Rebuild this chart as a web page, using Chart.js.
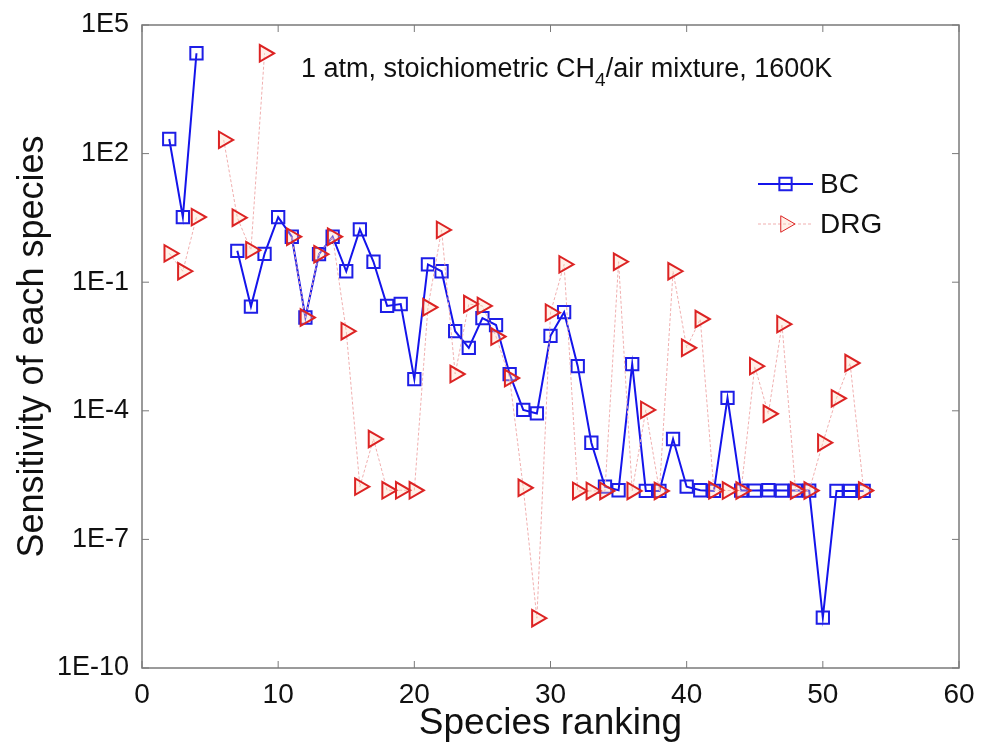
<!DOCTYPE html>
<html>
<head>
<meta charset="utf-8">
<script src="https://cdn.jsdelivr.net/npm/chart.js@4/dist/chart.umd.min.js"></script>
<style>
  html, body { margin: 0; padding: 0; background: #fff; }
  #wrap { width: 982px; height: 748px; position: relative; }
</style>
</head>
<body>
<div id="wrap"><canvas id="sensChart"></canvas></div>
<script>
// species ranking (x) and sensitivities; null = not plotted
const ranks = [2, 3, 4, 5, 6, 7, 8, 9, 10, 11, 12, 13, 14, 15, 16, 17, 18, 19, 20,
  21, 22, 23, 24, 25, 26, 27, 28, 29, 30, 31, 32, 33, 34, 35, 36, 37, 38, 39, 40,
  41, 42, 43, 44, 45, 46, 47, 48, 49, 50, 51, 52, 53];

const bcValues = [219, 3.3, 21900, null, null, 0.54, 0.027, 0.46, 3.3, 1.15,
  0.015, 0.45, 1.15, 0.18, 1.7, 0.30, 0.028, 0.031, 5.5e-4, 0.26,
  0.18, 7.2e-3, 2.95e-3, 0.0145, 0.01, 7.2e-4, 1.05e-4, 8.7e-5, 5.6e-3, 0.02,
  1.1e-3, 1.8e-5, 1.7e-6, 1.4e-6, 1.23e-3, 1.35e-6, 1.35e-6, 2.2e-5, 1.7e-6, 1.4e-6,
  1.35e-6, 2.0e-4, 1.38e-6, 1.38e-6, 1.4e-6, 1.38e-6, 1.38e-6, 1.38e-6, 1.5e-9, 1.35e-6,
  1.35e-6, 1.35e-6];

const drgValues = [0.47, 0.18, 3.3, null, 209, 3.2, 0.56, 21900, null, 1.15,
  0.015, 0.45, 1.15, 7.2e-3, 1.7e-6, 2.2e-5, 1.4e-6, 1.4e-6, 1.4e-6, 0.026,
  1.66, 7.2e-4, 0.031, 0.028, 5.4e-3, 5.8e-4, 1.6e-6, 1.45e-9, 0.0195, 0.26,
  1.35e-6, 1.35e-6, 1.35e-6, 0.30, 1.35e-6, 1.05e-4, 1.35e-6, 0.18, 2.95e-3, 0.0138,
  1.4e-6, 1.38e-6, 1.38e-6, 1.1e-3, 8.5e-5, 0.0105, 1.38e-6, 1.38e-6, 1.8e-5, 1.95e-4,
  1.3e-3, 1.38e-6];

const yTickValues = [1e-10, 1e-7, 1e-4, 1e-1, 1e2, 1e5];
const seriesNames = ["BC", "DRG"];

const FONT = "'Liberation Sans', Arial, Helvetica, sans-serif";

// box round the plot with MATLAB style inward ticks
const boxPlugin = {
  id: "box",
  afterDraw(chart) {
    const { ctx, chartArea: a, scales } = chart;
    ctx.save();
    ctx.strokeStyle = "#7a7a7a";
    ctx.lineWidth = 1.5;
    ctx.strokeRect(a.left, a.top, a.right - a.left, a.bottom - a.top);
    ctx.lineWidth = 1;
    ctx.beginPath();
    scales.x.ticks.forEach((t) => {
      const px = scales.x.getPixelForValue(t.value);
      ctx.moveTo(px, a.bottom); ctx.lineTo(px, a.bottom - 7);
      ctx.moveTo(px, a.top); ctx.lineTo(px, a.top + 7);
    });
    scales.y.ticks.forEach((t) => {
      const py = scales.y.getPixelForValue(t.value);
      ctx.moveTo(a.left, py); ctx.lineTo(a.left + 7, py);
      ctx.moveTo(a.right, py); ctx.lineTo(a.right - 7, py);
    });
    ctx.stroke();

    // annotation text with subscript
    ctx.fillStyle = "#111";
    ctx.textBaseline = "alphabetic";
    ctx.textAlign = "left";
    ctx.font = "27px " + FONT;
    let x = 301;
    const base = 77;
    const p1 = "1 atm, stoichiometric CH";
    ctx.fillText(p1, x, base);
    x += ctx.measureText(p1).width;
    ctx.font = "19px " + FONT;
    ctx.fillText("4", x, base + 9);
    x += ctx.measureText("4").width;
    ctx.font = "27px " + FONT;
    ctx.fillText("/air mixture, 1600K", x, base);

    // legend
    const rows = [184, 224];
    chart.data.datasets.forEach((ds, i) => {
      const y = rows[i];
      ctx.save();
      ctx.strokeStyle = ds.borderColor;
      ctx.lineWidth = ds.borderWidth;
      ctx.setLineDash(ds.borderDash || []);
      ctx.beginPath();
      ctx.moveTo(758, y); ctx.lineTo(813, y);
      ctx.stroke();
      ctx.setLineDash([]);
      ctx.strokeStyle = ds.pointBorderColor;
      ctx.fillStyle = ds.pointBackgroundColor;
      Chart.helpers.drawPoint(ctx, {
        pointStyle: ds.pointStyle,
        rotation: ds.pointRotation || 0,
        radius: ds.pointRadius,
        borderWidth: ds.pointBorderWidth
      }, 785.5, y);
      ctx.restore();
      ctx.fillStyle = "#111";
      ctx.font = "28px " + FONT;
      ctx.textBaseline = "middle";
      ctx.fillText(ds.label, 820, y + 1);
    });
    ctx.restore();
  }
};

new Chart(document.getElementById("sensChart"), {
  type: "line",
  data: {
    datasets: [
      {
        label: seriesNames[0],
        data: ranks.map((r, i) => ({ x: r, y: bcValues[i] })),
        borderColor: "rgb(20, 20, 235)",
        borderWidth: 2,
        pointStyle: "rect",
        pointRadius: 8.7,
        pointBorderWidth: 2,
        pointBorderColor: "rgb(30, 30, 230)",
        pointBackgroundColor: "rgba(255, 255, 255, 0)",
        spanGaps: false,
        tension: 0,
        order: 2
      },
      {
        label: seriesNames[1],
        data: ranks.map((r, i) => ({ x: r, y: drgValues[i] })),
        borderColor: "rgb(240, 175, 175)",
        borderWidth: 1,
        borderDash: [3, 2],
        pointStyle: "triangle",
        pointRotation: 90,
        pointRadius: 9.5,
        pointBorderWidth: 2,
        pointBorderColor: "rgb(220, 35, 35)",
        pointBackgroundColor: "rgba(255, 215, 190, 0.35)",
        spanGaps: false,
        tension: 0,
        order: 1
      }
    ]
  },
  options: {
    responsive: true,
    maintainAspectRatio: false,
    animation: false,
    layout: { padding: { top: 25, right: 23, left: 0, bottom: 0 } },
    plugins: {
      legend: { display: false },
      tooltip: { enabled: false }
    },
    scales: {
      x: {
        type: "linear",
        min: 0,
        max: 60,
        grid: { display: false },
        border: { display: false },
        ticks: {
          stepSize: 10,
          padding: 2,
          color: "#111",
          font: { family: FONT, size: 28 },
          maxRotation: 0
        },
        title: {
          display: true,
          text: "Species ranking",
          color: "#111",
          font: { family: FONT, size: 37 },
          padding: 2
        },
        afterFit(scale) { scale.height = 80; }
      },
      y: {
        type: "logarithmic",
        min: 1e-10,
        max: 1e5,
        grid: { display: false },
        border: { display: false },
        afterBuildTicks(scale) {
          scale.ticks = yTickValues.map((v) => ({ value: v }));
        },
        ticks: {
          padding: 5,
          color: "#111",
          font: { family: FONT, size: 27 },
          callback: (v) => "1E" + Math.round(Math.log10(v))
        },
        title: {
          display: true,
          text: "Sensitivity of each species",
          color: "#111",
          font: { family: FONT, size: 36 },
          padding: 11
        },
        afterFit(scale) { scale.width = 142; }
      }
    }
  },
  plugins: [boxPlugin]
});
</script>
</body>
</html>
